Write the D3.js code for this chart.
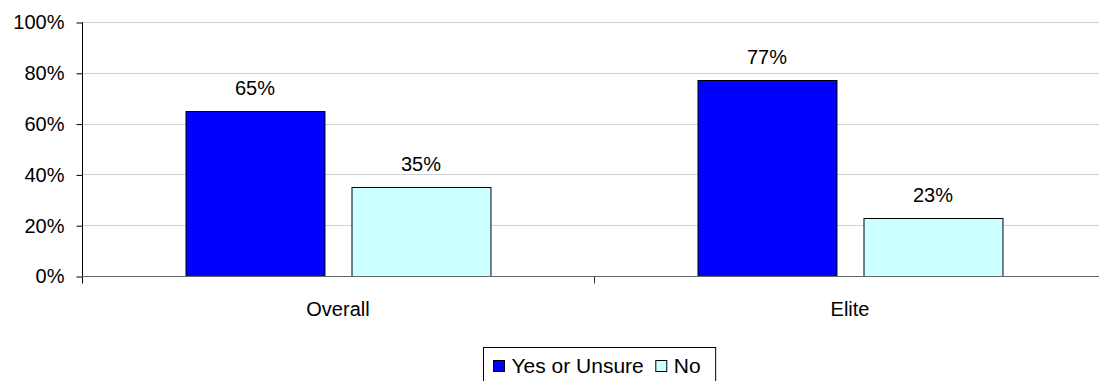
<!DOCTYPE html>
<html>
<head>
<meta charset="utf-8">
<script src="https://cdn.jsdelivr.net/npm/d3@7"></script>
<style>
  html, body { margin: 0; padding: 0; background: #fff; overflow: hidden; }
  text { font-family: "Liberation Sans", Arial, sans-serif; fill: #000; }
</style>
</head>
<body>
<svg id="chart" width="1099" height="381"></svg>
<script>
// Survey answers by group
const categories = ["Overall", "Elite"];
const seriesNames = ["Yes or Unsure", "No"];
const yesOrUnsure = [65, 77];
const no = [35, 23];
const yTicks = [0, 20, 40, 60, 80, 100];
const seriesColors = ["#0000FF", "#CCFFFF"];

const rows = categories.map((c, i) => ({ category: c, values: [yesOrUnsure[i], no[i]] }));

const svg = d3.select("#chart");
const plotLeft = 82, plotRight = 1106, plotTop = 22, plotBottom = 276;
const fontSize = 20;

const y = d3.scaleLinear().domain([0, 100]).range([plotBottom, plotTop]);
const x0 = d3.scaleBand().domain(categories).range([plotLeft, plotRight])
  .paddingInner(207 / 512).paddingOuter(207 / 1024);
const x1 = d3.scaleBand().domain(seriesNames).range([0, x0.bandwidth()])
  .paddingInner(0.163).paddingOuter(0);

// horizontal gridlines
svg.append("g").selectAll("line").data(yTicks.filter(t => t > 0)).join("line")
  .attr("x1", plotLeft).attr("x2", plotRight)
  .attr("y1", d => Math.round(y(d)) + 0.5).attr("y2", d => Math.round(y(d)) + 0.5)
  .attr("stroke", "#d0d0d0").attr("stroke-width", 1);

// bars
const groups = svg.append("g").selectAll("g").data(rows).join("g")
  .attr("transform", d => `translate(${x0(d.category)},0)`);

groups.selectAll("rect").data(d => d.values.map((v, i) => ({ v, s: seriesNames[i], i }))).join("rect")
  .attr("x", d => Math.round(x1(d.s)) + 0.5)
  .attr("y", d => Math.round(y(d.v)) + 0.5)
  .attr("width", x1.bandwidth())
  .attr("height", d => Math.round(y(0)) - Math.round(y(d.v)))
  .attr("fill", d => seriesColors[d.i])
  .attr("stroke", "#000").attr("stroke-width", 1);

// value labels
groups.selectAll("text").data(d => d.values.map((v, i) => ({ v, s: seriesNames[i] }))).join("text")
  .attr("x", d => x1(d.s) + x1.bandwidth() / 2)
  .attr("y", d => y(d.v) - 16)
  .attr("text-anchor", "middle")
  .style("font-size", fontSize + "px")
  .text(d => d.v + "%");

// y axis
const yAxis = d3.axisLeft(y).tickValues(yTicks).tickSize(6).tickPadding(12)
  .tickFormat(d => d + "%");
const gy = svg.append("g").attr("transform", `translate(${plotLeft + 0.5},0.5)`).call(yAxis);
gy.select(".domain").attr("stroke", "#000").attr("d", `M0,${plotTop}V${plotBottom + 7}`);
gy.selectAll(".tick line").attr("stroke", "#000");
gy.selectAll(".tick text").style("font-size", fontSize + "px").attr("font-family", null);

// x axis baseline and category separators
const gx = svg.append("g").attr("transform", `translate(0,${plotBottom + 0.5})`);
gx.append("line").attr("x1", plotLeft).attr("x2", plotRight).attr("y1", 0).attr("y2", 0)
  .attr("stroke", "#666");
const boundaries = categories.slice(1).map(c => x0(c) - x0.step() * x0.paddingInner() / 2);
gx.selectAll(".sep").data(boundaries).join("line").attr("class", "sep")
  .attr("x1", d => Math.round(d) + 0.5).attr("x2", d => Math.round(d) + 0.5)
  .attr("y1", 0).attr("y2", 7).attr("stroke", "#333");
gx.selectAll(".cat").data(categories).join("text").attr("class", "cat")
  .attr("x", d => x0(d) + x0.bandwidth() / 2)
  .attr("y", 39)
  .attr("text-anchor", "middle")
  .style("font-size", fontSize + "px")
  .text(d => d);

// legend
const legend = svg.append("g").attr("transform", "translate(483.5,347.5)");
const legendItems = legend.append("g");
let cx = 10;
seriesNames.forEach((name, i) => {
  legendItems.append("rect").attr("x", cx).attr("y", 13).attr("width", 11).attr("height", 11)
    .attr("fill", seriesColors[i]).attr("stroke", "#000");
  const t = legendItems.append("text").attr("x", cx + 18).attr("y", 25)
    .style("font-size", "21px").text(name);
  cx += 18 + t.node().getComputedTextLength() + 12;
});
legend.insert("rect", ":first-child").attr("x", 0).attr("y", 0)
  .attr("width", cx + 3).attr("height", 40)
  .attr("fill", "#fff").attr("stroke", "#000");
</script>
</body>
</html>
